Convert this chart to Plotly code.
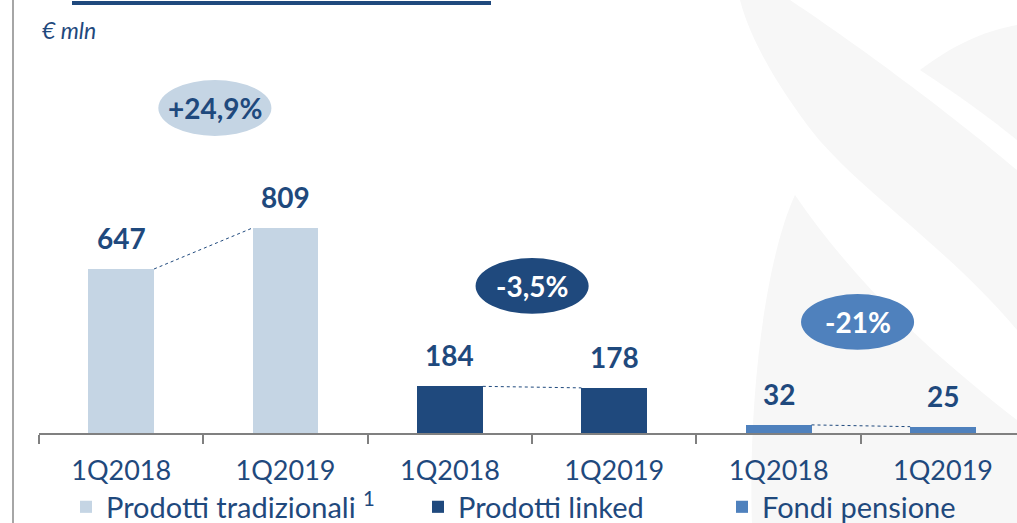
import plotly.graph_objects as go

# Dati (€ mln)
periodi = ["1Q2018", "1Q2019"]
serie = ["Prodotti tradizionali <sup>1</sup>", "Prodotti linked", "Fondi pensione"]
tradizionali = [647, 809]
linked = [184, 178]
pensione = [32, 25]
variazioni = ["+24,9%", "-3,5%", "-21%"]

colori = ["#C5D5E4", "#1F497D", "#4F81BD"]
testo_ellisse = ["#1F497D", "white", "white"]
blu = "#1F497D"

W, H = 1017, 523
ML, MB = 39, 90
PW, PH = W - ML, H - MB

def px(x, y):
    # pixel della pagina -> coordinate paper
    return (x - ML) / PW, (H - MB - y) / PH

fig = go.Figure()

valori = [tradizionali, linked, pensione]
legende = ["legend", "legend2", "legend3"]
tick_x, tick_t = [], []
for g, (nome, v) in enumerate(zip(serie, valori)):
    xs = [2 * g, 2 * g + 1]
    tick_x += xs
    tick_t += periodi
    fig.add_trace(go.Bar(x=xs, y=v, name=nome, marker_color=colori[g],
                         width=0.4, marker_line_width=0, legend=legende[g]))
    # linea tratteggiata tra le barre
    fig.add_trace(go.Scatter(x=[xs[0] + 0.2, xs[1] - 0.2], y=v, mode="lines",
                             line=dict(color=blu, width=1, dash="dot"),
                             showlegend=False, hoverinfo="skip"))
    for xi, yi in zip(xs, v):
        fig.add_annotation(x=xi, y=yi, text=f"<b>{yi}</b>", showarrow=False,
                           yanchor="bottom", yshift=12,
                           font=dict(family="Lato", size=28, color=blu))

# ellissi con le variazioni
ell_x = [0.57, 2.5, 4.48]
ell_y = [1282, 580, 438]
for cx, cy, c, tc, t in zip(ell_x, ell_y, colori, testo_ellisse, variazioni):
    fig.add_shape(type="circle", xref="x", yref="y", x0=cx - 0.344, x1=cx + 0.344,
                  y0=cy - 110, y1=cy + 110, fillcolor=c, line_width=0, layer="above")
    fig.add_annotation(x=cx, y=cy, text=f"<b>{t}</b>", showarrow=False,
                       font=dict(family="Lato", size=28, color=tc))

# filigrana di sfondo
for path in [
    "M 740 0 L 790 0 C 880 60 970 130 1017 170 L 1017 330 C 950 250 860 190 815 135 C 780 90 750 40 740 0 Z",
    "M 920 70 C 960 40 990 30 1017 25 L 1017 140 C 980 110 950 90 920 70 Z",
    "M 795 195 C 765 260 748 400 752 523 L 1017 523 L 1017 420 C 940 360 860 290 795 195 Z",
]:
    pts = path.split()
    out = []
    i = 0
    while i < len(pts):
        if pts[i] in "MLCZ":
            out.append(pts[i]); i += 1
        else:
            a, b = px(float(pts[i]), float(pts[i + 1]))
            out.append(f"{a:.4f},{b:.4f}"); i += 2
    fig.add_shape(type="path", xref="paper", yref="paper", path=" ".join(out),
                  fillcolor="#F7F7F7", line_width=0, layer="below")

# decorazioni: linea verticale sinistra e linea blu in alto
x0, y0 = px(13, 0); x1, y1 = px(13, H)
fig.add_shape(type="line", xref="paper", yref="paper", x0=x0, y0=y0, x1=x1, y1=y1,
              line=dict(color="#A6A6A6", width=2))
x0, y0 = px(72, 3); x1, _ = px(491, 3)
fig.add_shape(type="line", xref="paper", yref="paper", x0=x0, y0=y0, x1=x1, y1=y0,
              line=dict(color=blu, width=4))

ax, ay = px(40, 30)
fig.add_annotation(xref="paper", yref="paper", x=ax, y=ay, text="<i>€ mln</i>",
                   showarrow=False, xanchor="left", yanchor="middle",
                   font=dict(family="Lato", size=23, color=blu))

leg_x = [66, 418, 722]
leg = dict(orientation="h", xref="container", yref="container", y=(H - 507) / H,
           xanchor="left", yanchor="middle", itemwidth=30,
           font=dict(family="Lato", size=29, color=blu), bgcolor="rgba(0,0,0,0)")
fig.update_layout(
    width=W, height=H, plot_bgcolor="white", paper_bgcolor="white",
    margin=dict(l=ML, r=0, t=0, b=MB, autoexpand=False), bargap=0,
    showlegend=True,
    legend=dict(leg, x=leg_x[0] / W),
    legend2=dict(leg, x=leg_x[1] / W),
    legend3=dict(leg, x=leg_x[2] / W),
    xaxis=dict(range=[-0.5, 5.45], tickmode="array", tickvals=tick_x, ticktext=tick_t,
               ticks="", showgrid=False, zeroline=False, showline=True, automargin=False,
               linecolor="#808080", linewidth=2, ticklabelstandoff=13,
               tickfont=dict(family="Lato", size=27, color=blu),
               minor=dict(tickmode="array", tickvals=[-0.5, 0.5, 1.5, 2.5, 3.5, 4.5, 5.5],
                          ticks="outside", ticklen=9, tickcolor="#808080", tickwidth=2)),
    yaxis=dict(range=[0, 1708], visible=False, showgrid=False, automargin=False),
)

fig.write_html("out.html", config={"displayModeBar": False},
               post_script="document.body.style.margin='0';")
